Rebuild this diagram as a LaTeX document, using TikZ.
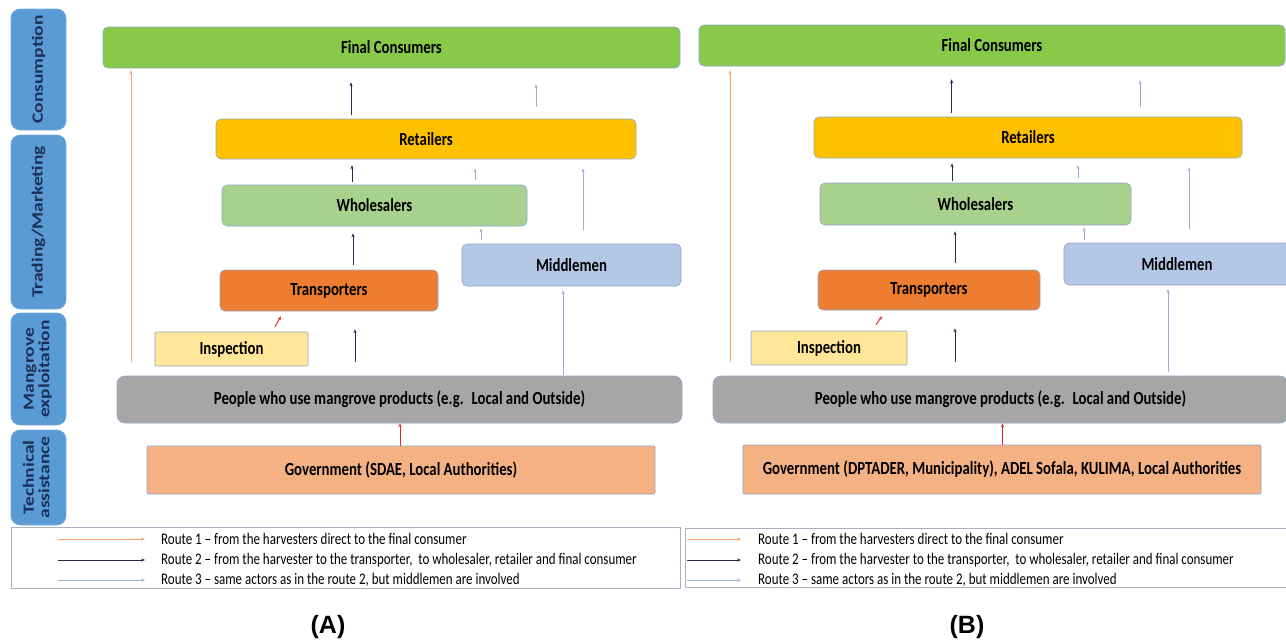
\documentclass[tikz,border=0pt]{standalone}
\usepackage{fontspec}
\setmainfont{Carlito}
\newfontfamily\labfont{Liberation Sans}
\usepackage{graphicx}
\usetikzlibrary{arrows.meta}
\definecolor{cfc}{HTML}{88C94A}
\definecolor{cret}{HTML}{FFC000}
\definecolor{cwh}{HTML}{A9D18E}
\definecolor{ctr}{HTML}{ED7D31}
\definecolor{cmid}{HTML}{B4C7E7}
\definecolor{cins}{HTML}{FFE699}
\definecolor{cppl}{HTML}{A6A6A6}
\definecolor{cgov}{HTML}{F4B183}
\definecolor{cside}{HTML}{5B9BD5}
\definecolor{csidetxt}{HTML}{1C2F57}
\definecolor{cline}{HTML}{8EA6C8}
\definecolor{cnavy}{HTML}{232B4F}
\definecolor{clight}{HTML}{9CB0D6}
\definecolor{corange}{HTML}{F6A26B}
\definecolor{cred}{HTML}{E3262E}
\definecolor{clegbox}{HTML}{A7B0C0}
\newcommand{\hsq}[1]{\scalebox{0.8}[1]{#1}}
\newcommand{\vsq}[1]{\scalebox{1}[0.8]{#1}}
% up-arrow from lower node (#2) to upper node (#3) at x=#4, shortened #5 / #6
\newcommand{\uparr}[6]{%
  \path (#4,0) coordinate (tmpx);
  \draw[#1,shorten <=#5pt,shorten >=#6pt] (#2.north -| tmpx) -- (#3.south -| tmpx);}
\begin{document}
\begin{tikzpicture}[x=1pt,y=-1pt,
  box/.style={draw=cline, line width=0.6pt, rounded corners=5pt, inner sep=0pt,
    font=\fontsize{18.5}{20}\selectfont\bfseries, text=black},
  side/.style={fill=cside, draw=cside!85!white, line width=0.6pt, rounded corners=9pt,
    inner sep=0pt, rotate=90, font=\fontsize{19.5}{19}\selectfont\bfseries, text=csidetxt},
  legbox/.style={draw=clegbox, line width=0.7pt, inner sep=0pt},
  legtxt/.style={anchor=west, inner sep=0pt, font=\fontsize{16.2}{17}\selectfont, text=black},
  tip/.style={-{Stealth[length=4pt,width=3.2pt]}, line width=0.9pt},
  nv/.style={tip, draw=cnavy},
  lt/.style={tip, draw=clight},
  og/.style={tip, draw=corange},
  rd/.style={tip, draw=cred},
  panel/.style={font=\labfont\fontsize{25}{26}\selectfont\bfseries, text=black}
]
\useasboundingbox (0,0) rectangle (1286,640);
\fill[white] (0,0) rectangle (1286,640);

% ---------------- side labels ----------------
\node[side, minimum width=121pt, minimum height=55pt] (sCons) at (38.5,69.5) {\vsq{Consumption}};
\node[side, minimum width=174pt, minimum height=55pt] (sTrade) at (38.5,222) {\vsq{Trading/Marketing}};
\node[side, minimum width=112pt, minimum height=55pt] (sMang) at (38.5,369) {\vsq{\begin{tabular}{@{}c@{}}Mangrove\\exploitation\end{tabular}}};
\node[side, minimum width=95pt, minimum height=55pt] (sTech) at (38.5,477.5) {\vsq{\begin{tabular}{@{}c@{}}Technical\\assistance\end{tabular}}};

% ---------------- panel A ----------------
\node[box, fill=cfc, minimum width=577pt, minimum height=41pt] (fcA) at (391.5,47.5) {\hsq{Final Consumers}};
\node[box, fill=cret, minimum width=420pt, minimum height=40pt] (retA) at (426,139) {\hsq{Retailers}};
\node[box, fill=cwh, minimum width=305pt, minimum height=41pt] (whA) at (374.5,205.5) {\hsq{Wholesalers}};
\node[box, fill=ctr, minimum width=218pt, minimum height=41pt] (trA) at (329,290.5) {\hsq{Transporters}};
\node[box, fill=cmid, minimum width=219pt, minimum height=42pt] (midA) at (571.5,265) {\hsq{Middlemen}};
\node[box, fill=cins, rounded corners=1pt, minimum width=153pt, minimum height=34pt] (insA) at (231.5,349) {\hsq{Inspection}};
\node[box, fill=cppl, rounded corners=8pt, minimum width=565pt, minimum height=47pt] (pplA) at (399.5,399.5) {\hsq{People who use mangrove products (e.g.~ Local and Outside)}};
\node[box, fill=cgov, rounded corners=1pt, minimum width=508pt, minimum height=48pt] (govA) at (401,470) {\hsq{Government (SDAE, Local Authorities)}};

% route 1
\uparr{og}{pplA}{fcA}{131}{14}{2}
% route 2
\uparr{nv}{pplA}{trA}{355}{14}{18}
\uparr{nv}{trA}{whA}{353}{5}{7}
\uparr{nv}{whA}{retA}{352}{3}{6}
\uparr{nv}{retA}{fcA}{351}{4}{14}
% route 3
\uparr{lt}{pplA}{midA}{563}{1}{4}
\uparr{lt}{midA}{whA}{481}{4}{2}
\uparr{lt}{midA}{retA}{583}{14}{9}
\uparr{lt}{whA}{retA}{475}{5}{9}
\uparr{lt}{retA}{fcA}{536}{12}{16}
% red
\draw[rd] ([shift={(43.5,-5)}]insA.north) -- ([shift={(-48,5)}]trA.south);
\uparr{rd}{govA}{pplA}{400}{0}{0}

% legend A
\node[legbox, minimum width=669pt, minimum height=61pt] (legA) at (345.5,557.5) {};
\coordinate (la1s) at (58,539); \coordinate (la1e) at (145,539);
\coordinate (la2s) at (58,560); \coordinate (la2e) at (145,560);
\coordinate (la3s) at (58,580); \coordinate (la3e) at (145,580);
\draw[og] (la1s) -- (la1e);
\draw[nv] (la2s) -- (la2e);
\draw[lt] (la3s) -- (la3e);
\node[legtxt] (ta1) at (161,539) {\hsq{Route 1 -- from the harvesters direct to the final consumer}};
\node[legtxt] (ta2) at (161,560) {\hsq{Route 2 -- from the harvester to the transporter,~ to wholesaler, retailer and final consumer}};
\node[legtxt] (ta3) at (161,580) {\hsq{Route 3 -- same actors as in the route 2, but middlemen are involved}};
\node[panel] (labA) at (328,627) {(A)};

% ---------------- panel B ----------------
\node[box, fill=cfc, minimum width=586pt, minimum height=41pt] (fcB) at (992,45.5) {\hsq{Final Consumers}};
\node[box, fill=cret, minimum width=428pt, minimum height=41pt] (retB) at (1028,137.5) {\hsq{Retailers}};
\node[box, fill=cwh, minimum width=311pt, minimum height=42pt] (whB) at (975.5,204) {\hsq{Wholesalers}};
\node[box, fill=ctr, minimum width=222pt, minimum height=40pt] (trB) at (929,290) {\hsq{Transporters}};
\node[box, fill=cmid, minimum width=226pt, minimum height=42pt] (midB) at (1177,264) {\hsq{Middlemen}};
\node[box, fill=cins, rounded corners=1pt, minimum width=156pt, minimum height=34pt] (insB) at (829,348) {\hsq{Inspection}};
\node[box, fill=cppl, rounded corners=8pt, minimum width=575pt, minimum height=47pt] (pplB) at (1000.5,399.5) {\hsq{People who use mangrove products (e.g.~ Local and Outside)}};
\node[box, fill=cgov, rounded corners=1pt, minimum width=518pt, minimum height=49pt] (govB) at (1002,469.5) {\hsq{Government (DPTADER, Municipality), ADEL Sofala, KULIMA, Local Authorities}};

% route 1
\uparr{og}{pplB}{fcB}{730}{14}{4}
% route 2
\uparr{nv}{pplB}{trB}{955}{14}{18}
\uparr{nv}{trB}{whB}{955}{7}{6}
\uparr{nv}{whB}{retB}{952}{2}{5}
\uparr{nv}{retB}{fcB}{951.6}{4}{13}
% route 3
\uparr{lt}{pplB}{midB}{1168}{4}{4}
\uparr{lt}{midB}{whB}{1084}{3}{2}
\uparr{lt}{midB}{retB}{1189}{14}{9}
\uparr{lt}{whB}{retB}{1078}{5}{7}
\uparr{lt}{retB}{fcB}{1140}{10}{14}
% red
\draw[rd] ([shift={(47,-6)}]insB.north) -- ([shift={(-47,6)}]trB.south);
\uparr{rd}{govB}{pplB}{1002.5}{0}{0}

% legend B
\node[legbox, minimum width=605pt, minimum height=59pt] (legB) at (987.5,557.5) {};
\coordinate (lb1s) at (687,539); \coordinate (lb1e) at (741,539);
\coordinate (lb2s) at (687,560); \coordinate (lb2e) at (741,560);
\coordinate (lb3s) at (687,580); \coordinate (lb3e) at (741,580);
\draw[og] (lb1s) -- (lb1e);
\draw[nv] (lb2s) -- (lb2e);
\draw[lt] (lb3s) -- (lb3e);
\node[legtxt] (tb1) at (758,539) {\hsq{Route 1 -- from the harvesters direct to the final consumer}};
\node[legtxt] (tb2) at (758,560) {\hsq{Route 2 -- from the harvester to the transporter,~ to wholesaler, retailer and final consumer}};
\node[legtxt] (tb3) at (758,580) {\hsq{Route 3 -- same actors as in the route 2, but middlemen are involved}};
\node[panel] (labB) at (967,627) {(B)};
\end{tikzpicture}
\end{document}
